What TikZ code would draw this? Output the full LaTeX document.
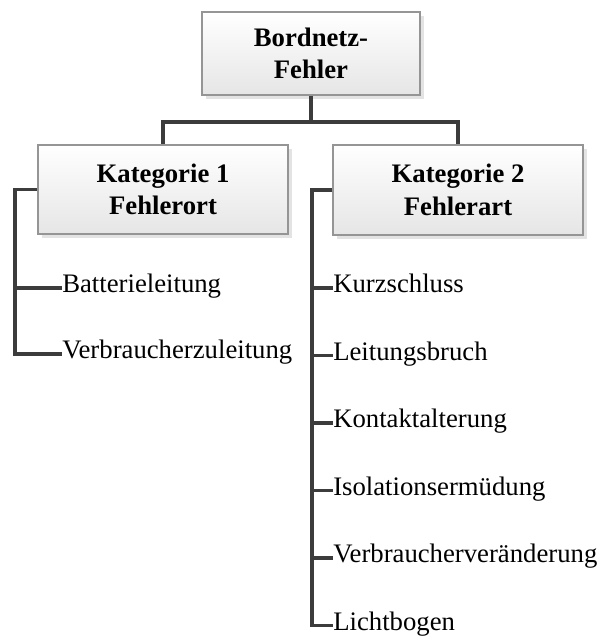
\documentclass[tikz,border=0pt]{standalone}
\usepackage{fontspec}
\setmainfont{Liberation Serif}
\usepackage{tikz}
\usetikzlibrary{calc,shadows}
\definecolor{linegray}{HTML}{3C3C3C}
\definecolor{framegray}{HTML}{959595}

\begin{document}
\begin{tikzpicture}[x=0.025cm,y=-0.025cm,
  catbox/.style={draw=framegray,line width=1pt,top color=white,bottom color=black!10,
    drop shadow={shadow xshift=2.6pt,shadow yshift=-2.6pt,fill=black!22},
    align=center,font=\fontsize{19}{23}\selectfont\bfseries,inner sep=0pt},
  item/.style={anchor=west,inner sep=0pt,text height=0.68em,text depth=0pt,
    font=\fontsize{19}{23}\selectfont},
  conn/.style={draw=linegray,line width=2.2pt}]
\useasboundingbox (0,0) rectangle (610,643);
\node[catbox,minimum width=5.45cm,minimum height=2.075cm] (fehler) at (311,53.5) {Bordnetz-\\Fehler};
\node[catbox,minimum width=6.25cm,minimum height=2.225cm] (kat1) at (163,189.5) {Kategorie 1\\Fehlerort};
\node[catbox,minimum width=6.25cm,minimum height=2.25cm] (kat2) at (458,190) {Kategorie 2\\Fehlerart};
\coordinate (bus) at (0,122);
\coordinate (trunk1) at (15,0);
\coordinate (trunk2) at (312,0);
\node[item] (batt) at (62,288) {Batterieleitung};
\node[item] (verbz) at (62,354) {Verbraucherzuleitung};
\node[item] (kurz) at (333,288) {Kurzschluss};
\node[item] (bruch) at (333,355.5) {Leitungsbruch};
\node[item] (kontakt) at (333,423) {Kontaktalterung};
\node[item] (isol) at (333,490.5) {Isolationsermüdung};
\node[item] (verbv) at (333,558) {Verbraucherveränderung};
\node[item] (licht) at (333,625.5) {Lichtbogen};
\draw[conn] (fehler.south) -- (fehler.south |- bus) -| (kat1.north);
\draw[conn] (fehler.south |- bus) -| (kat2.north);
\draw[conn] (kat1.west) -- (kat1.west -| trunk1) -- (trunk1 |- verbz.west) -- (verbz.west);
\draw[conn] (trunk1 |- batt.west) -- (batt.west);
\draw[conn] (kat2.west) -- (kat2.west -| trunk2) -- (trunk2 |- licht.west) -- (licht.west);
\draw[conn] (trunk2 |- kurz.west) -- (kurz.west);
\draw[conn] (trunk2 |- bruch.west) -- (bruch.west);
\draw[conn] (trunk2 |- kontakt.west) -- (kontakt.west);
\draw[conn] (trunk2 |- isol.west) -- (isol.west);
\draw[conn] (trunk2 |- verbv.west) -- (verbv.west);
\end{tikzpicture}
\end{document}
